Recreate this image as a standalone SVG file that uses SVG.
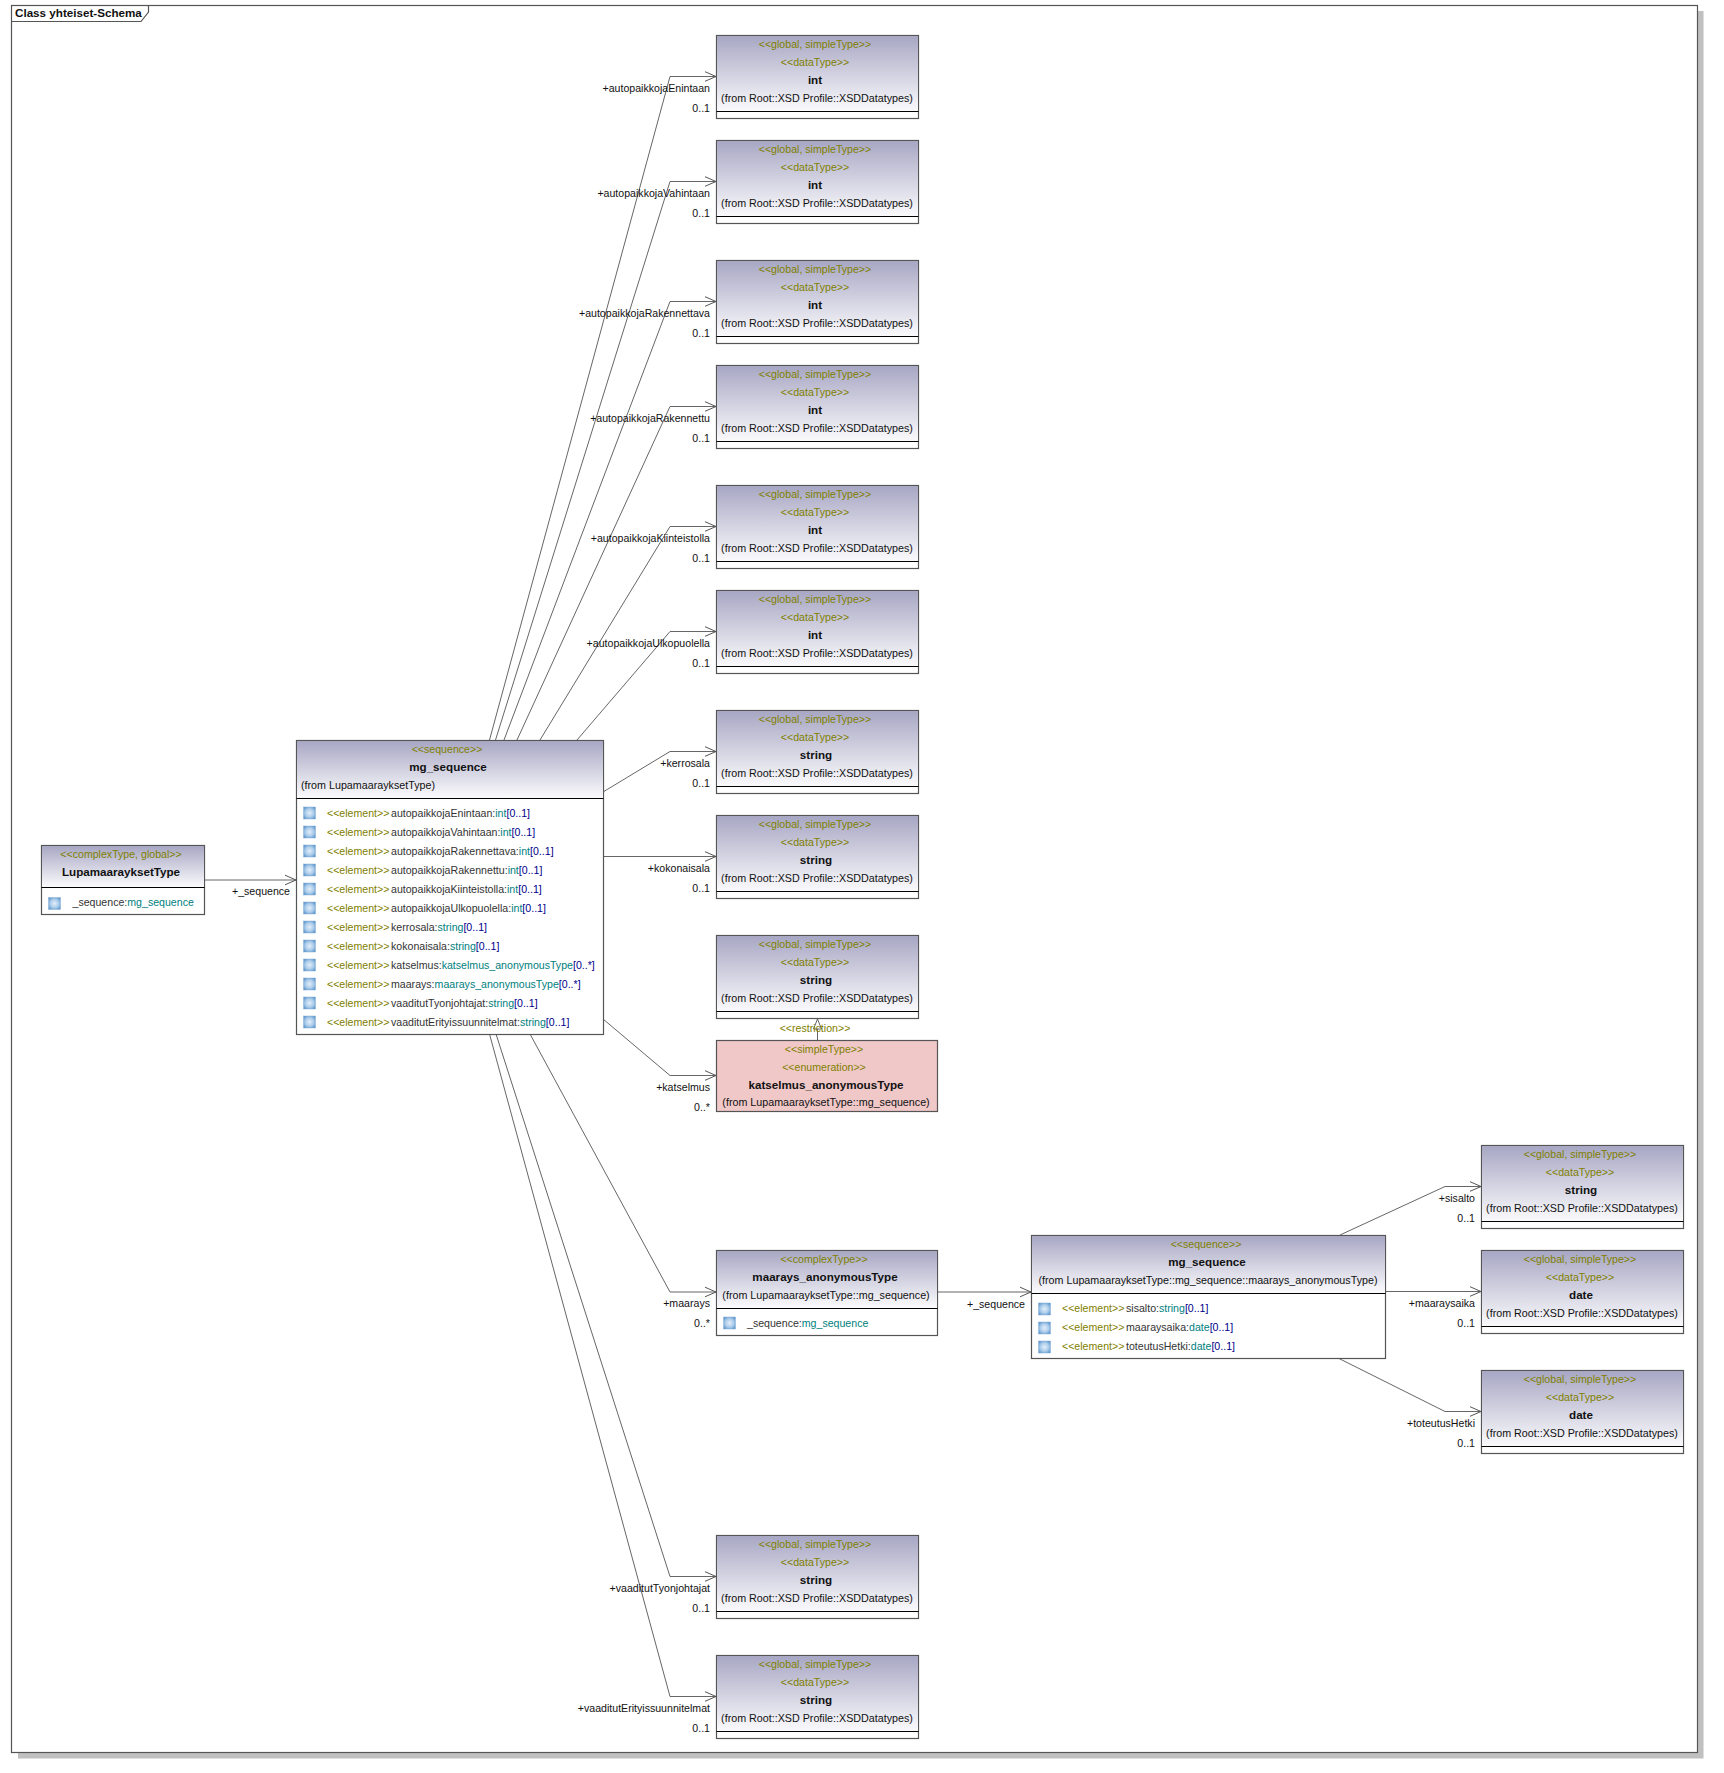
<svg xmlns="http://www.w3.org/2000/svg" width="1724" height="1773" viewBox="0 0 1724 1773">
<style>
text{font-family:"Liberation Sans",Arial,sans-serif;font-size:10.6px;fill:#111}
.c{text-anchor:middle}.e{text-anchor:end}
.st{fill:#808000}.b{font-weight:bold;font-size:11.65px}.t{fill:#008080}.m{fill:#00008b}.n{fill:#333}
.box{fill:#fff;stroke:#555;stroke-width:1.2}
.pink{fill:#f0c8c8;stroke:#555;stroke-width:1.2}
.head{fill:url(#hg);stroke:none}
.div{stroke:#000;stroke-width:1.2;fill:none}
.ln{fill:none;stroke:#555;stroke-width:.9}
.ic{fill:url(#ig);stroke:#8fb4d8;stroke-width:.5;width:12px;height:12px}
.f{font-size:10.72px}
</style>
<defs>
<linearGradient id="hg" x1="0" y1="0" x2="0" y2="1"><stop offset="0" stop-color="#a8a7c4"/><stop offset="1" stop-color="#fbfbfd"/></linearGradient>
<radialGradient id="ig" cx=".5" cy=".5" r=".65"><stop offset="0" stop-color="#e4eefa"/><stop offset=".55" stop-color="#a9cbea"/><stop offset="1" stop-color="#4f8cc8"/></radialGradient>
<marker id="open" markerUnits="userSpaceOnUse" markerWidth="14" markerHeight="12" refX="12" refY="6" orient="auto"><path d="M1 1.200L12 6L1 10.800" fill="none" stroke="#555" stroke-width="1"/></marker>
<clipPath id="rowclip"><rect x="300" y="800" width="296" height="232"/></clipPath>
</defs>
<rect id="bg" width="1724" height="1773" fill="#fff"/>
<g id="frame">
<path d="M1697.500 11H1703.500V1758.500H18V1752.500H1697.500Z" fill="#c0c0c0"/>
<rect x="11.500" y="5.500" width="1686" height="1747" fill="#fff" stroke="#555" stroke-width="1.2"/>
<path d="M11.500 21.500H141L148.500 12V5.500" fill="none" stroke="#555" stroke-width="1.2"/>
<text x="15" y="17" class="b">Class yhteiset-Schema</text>
</g>
<g id="connectors">
<path class="ln" marker-end="url(#open)" d="M204 880H296"/>
<path class="ln" marker-end="url(#open)" d="M489.500 740L670 76.500H716"/>
<path class="ln" marker-end="url(#open)" d="M495.500 740L670 181.500H716"/>
<path class="ln" marker-end="url(#open)" d="M504 740L670 301.500H716"/>
<path class="ln" marker-end="url(#open)" d="M517 740L670 406.500H716"/>
<path class="ln" marker-end="url(#open)" d="M540 740L670 526.500H716"/>
<path class="ln" marker-end="url(#open)" d="M577 740L670 631.500H716"/>
<path class="ln" marker-end="url(#open)" d="M603 792L670 751.500H716"/>
<path class="ln" marker-end="url(#open)" d="M603 856.500H716"/>
<path class="ln" marker-end="url(#open)" d="M603 1019L670 1075.500H716"/>
<path class="ln" marker-end="url(#open)" d="M530 1034L670 1292H716"/>
<path class="ln" marker-end="url(#open)" d="M496 1034L670 1576.500H716"/>
<path class="ln" marker-end="url(#open)" d="M489.500 1034L670 1696.500H716"/>
<path class="ln" marker-end="url(#open)" d="M938 1292H1031"/>
<path class="ln" marker-end="url(#open)" d="M1340 1235L1445 1186.500H1481"/>
<path class="ln" marker-end="url(#open)" d="M1385 1291.500H1481"/>
<path class="ln" marker-end="url(#open)" d="M1338 1358L1445 1411.500H1481"/>
<path class="ln" d="M817.500 1040V1029M813.500 1029H821.500L817.500 1019Z"/>
<text x="290" y="895" class="e">+_sequence</text>
<text x="710" y="92" class="e">+autopaikkojaEnintaan</text><text x="710" y="112" class="e">0..1</text>
<text x="710" y="197" class="e">+autopaikkojaVahintaan</text><text x="710" y="217" class="e">0..1</text>
<text x="710" y="317" class="e">+autopaikkojaRakennettava</text><text x="710" y="337" class="e">0..1</text>
<text x="710" y="422" class="e">+autopaikkojaRakennettu</text><text x="710" y="442" class="e">0..1</text>
<text x="710" y="542" class="e">+autopaikkojaKiinteistolla</text><text x="710" y="562" class="e">0..1</text>
<text x="710" y="647" class="e">+autopaikkojaUlkopuolella</text><text x="710" y="667" class="e">0..1</text>
<text x="710" y="767" class="e">+kerrosala</text><text x="710" y="787" class="e">0..1</text>
<text x="710" y="872" class="e">+kokonaisala</text><text x="710" y="892" class="e">0..1</text>
<text x="710" y="1091" class="e">+katselmus</text><text x="710" y="1111" class="e">0..*</text>
<text x="710" y="1307" class="e">+maarays</text><text x="710" y="1327" class="e">0..*</text>
<text x="710" y="1592" class="e">+vaaditutTyonjohtajat</text><text x="710" y="1612" class="e">0..1</text>
<text x="710" y="1712" class="e">+vaaditutErityissuunnitelmat</text><text x="710" y="1732" class="e">0..1</text>
<text x="1025" y="1308" class="e">+_sequence</text>
<text x="1475" y="1202" class="e">+sisalto</text><text x="1475" y="1222" class="e">0..1</text>
<text x="1475" y="1307" class="e">+maaraysaika</text><text x="1475" y="1327" class="e">0..1</text>
<text x="1475" y="1427" class="e">+toteutusHetki</text><text x="1475" y="1447" class="e">0..1</text>
<text x="815" y="1032" class="c st">&lt;&lt;restriction&gt;&gt;</text>
</g>
<g id="LupamaarayksetType">
<rect class="box" x="41.500" y="845.500" width="163" height="69"/><rect class="head" x="42" y="846" width="162" height="41"/><path class="div" d="M41.500 887.500H204.500"/>
<text x="121" y="858" class="c st">&lt;&lt;complexType, global&gt;&gt;</text>
<text x="121" y="876" class="c b">LupamaarayksetType</text>
<rect class="ic" x="48.500" y="897.500"/>
<text x="72.500" y="906"><tspan class="n">_sequence:</tspan><tspan class="t">mg_sequence</tspan></text>
</g>
<g id="mg_sequence_main">
<rect class="box" x="296.500" y="740.500" width="307" height="294"/><rect class="head" x="297" y="741" width="306" height="57"/><path class="div" d="M296.500 798.500H603.500"/>
<text x="447" y="753" class="c st">&lt;&lt;sequence&gt;&gt;</text>
<text x="448" y="771" class="c b">mg_sequence</text>
<text x="301" y="789" class="f">(from LupamaarayksetType)</text>
<rect class="ic" x="303.500" y="807"/><text x="327" y="817" class="st">&lt;&lt;element&gt;&gt;</text><text x="391" y="817"><tspan class="n">autopaikkojaEnintaan:</tspan><tspan class="t">int</tspan><tspan class="m">[0..1]</tspan></text>
<rect class="ic" x="303.500" y="826"/><text x="327" y="836" class="st">&lt;&lt;element&gt;&gt;</text><text x="391" y="836"><tspan class="n">autopaikkojaVahintaan:</tspan><tspan class="t">int</tspan><tspan class="m">[0..1]</tspan></text>
<rect class="ic" x="303.500" y="845"/><text x="327" y="855" class="st">&lt;&lt;element&gt;&gt;</text><text x="391" y="855"><tspan class="n">autopaikkojaRakennettava:</tspan><tspan class="t">int</tspan><tspan class="m">[0..1]</tspan></text>
<rect class="ic" x="303.500" y="864"/><text x="327" y="874" class="st">&lt;&lt;element&gt;&gt;</text><text x="391" y="874"><tspan class="n">autopaikkojaRakennettu:</tspan><tspan class="t">int</tspan><tspan class="m">[0..1]</tspan></text>
<rect class="ic" x="303.500" y="883"/><text x="327" y="893" class="st">&lt;&lt;element&gt;&gt;</text><text x="391" y="893"><tspan class="n">autopaikkojaKiinteistolla:</tspan><tspan class="t">int</tspan><tspan class="m">[0..1]</tspan></text>
<rect class="ic" x="303.500" y="902"/><text x="327" y="912" class="st">&lt;&lt;element&gt;&gt;</text><text x="391" y="912"><tspan class="n">autopaikkojaUlkopuolella:</tspan><tspan class="t">int</tspan><tspan class="m">[0..1]</tspan></text>
<rect class="ic" x="303.500" y="921"/><text x="327" y="931" class="st">&lt;&lt;element&gt;&gt;</text><text x="391" y="931"><tspan class="n">kerrosala:</tspan><tspan class="t">string</tspan><tspan class="m">[0..1]</tspan></text>
<rect class="ic" x="303.500" y="940"/><text x="327" y="950" class="st">&lt;&lt;element&gt;&gt;</text><text x="391" y="950"><tspan class="n">kokonaisala:</tspan><tspan class="t">string</tspan><tspan class="m">[0..1]</tspan></text>
<rect class="ic" x="303.500" y="959"/><text x="327" y="969" class="st">&lt;&lt;element&gt;&gt;</text><text x="391" y="969" clip-path="url(#rowclip)"><tspan class="n">katselmus:</tspan><tspan class="t">katselmus_anonymousType</tspan><tspan class="m">[0..*]</tspan></text>
<rect class="ic" x="303.500" y="978"/><text x="327" y="988" class="st">&lt;&lt;element&gt;&gt;</text><text x="391" y="988"><tspan class="n">maarays:</tspan><tspan class="t">maarays_anonymousType</tspan><tspan class="m">[0..*]</tspan></text>
<rect class="ic" x="303.500" y="997"/><text x="327" y="1007" class="st">&lt;&lt;element&gt;&gt;</text><text x="391" y="1007"><tspan class="n">vaaditutTyonjohtajat:</tspan><tspan class="t">string</tspan><tspan class="m">[0..1]</tspan></text>
<rect class="ic" x="303.500" y="1016"/><text x="327" y="1026" class="st">&lt;&lt;element&gt;&gt;</text><text x="391" y="1026"><tspan class="n">vaaditutErityissuunnitelmat:</tspan><tspan class="t">string</tspan><tspan class="m">[0..1]</tspan></text>
</g>
<g id="int1"><rect class="box" x="716.500" y="35.500" width="202" height="83"/><rect class="head" x="717" y="36" width="201" height="76"/><path class="div" d="M716.500 111.500H918.500"/><text x="815" y="48" class="c st">&lt;&lt;global, simpleType&gt;&gt;</text><text x="815" y="66" class="c st">&lt;&lt;dataType&gt;&gt;</text><text x="815" y="84" class="c b">int</text><text x="817" y="102" class="c f">(from Root::XSD Profile::XSDDatatypes)</text></g>
<g id="int2"><rect class="box" x="716.500" y="140.500" width="202" height="83"/><rect class="head" x="717" y="141" width="201" height="76"/><path class="div" d="M716.500 216.500H918.500"/><text x="815" y="153" class="c st">&lt;&lt;global, simpleType&gt;&gt;</text><text x="815" y="171" class="c st">&lt;&lt;dataType&gt;&gt;</text><text x="815" y="189" class="c b">int</text><text x="817" y="207" class="c f">(from Root::XSD Profile::XSDDatatypes)</text></g>
<g id="int3"><rect class="box" x="716.500" y="260.500" width="202" height="83"/><rect class="head" x="717" y="261" width="201" height="76"/><path class="div" d="M716.500 336.500H918.500"/><text x="815" y="273" class="c st">&lt;&lt;global, simpleType&gt;&gt;</text><text x="815" y="291" class="c st">&lt;&lt;dataType&gt;&gt;</text><text x="815" y="309" class="c b">int</text><text x="817" y="327" class="c f">(from Root::XSD Profile::XSDDatatypes)</text></g>
<g id="int4"><rect class="box" x="716.500" y="365.500" width="202" height="83"/><rect class="head" x="717" y="366" width="201" height="76"/><path class="div" d="M716.500 441.500H918.500"/><text x="815" y="378" class="c st">&lt;&lt;global, simpleType&gt;&gt;</text><text x="815" y="396" class="c st">&lt;&lt;dataType&gt;&gt;</text><text x="815" y="414" class="c b">int</text><text x="817" y="432" class="c f">(from Root::XSD Profile::XSDDatatypes)</text></g>
<g id="int5"><rect class="box" x="716.500" y="485.500" width="202" height="83"/><rect class="head" x="717" y="486" width="201" height="76"/><path class="div" d="M716.500 561.500H918.500"/><text x="815" y="498" class="c st">&lt;&lt;global, simpleType&gt;&gt;</text><text x="815" y="516" class="c st">&lt;&lt;dataType&gt;&gt;</text><text x="815" y="534" class="c b">int</text><text x="817" y="552" class="c f">(from Root::XSD Profile::XSDDatatypes)</text></g>
<g id="int6"><rect class="box" x="716.500" y="590.500" width="202" height="83"/><rect class="head" x="717" y="591" width="201" height="76"/><path class="div" d="M716.500 666.500H918.500"/><text x="815" y="603" class="c st">&lt;&lt;global, simpleType&gt;&gt;</text><text x="815" y="621" class="c st">&lt;&lt;dataType&gt;&gt;</text><text x="815" y="639" class="c b">int</text><text x="817" y="657" class="c f">(from Root::XSD Profile::XSDDatatypes)</text></g>
<g id="string1"><rect class="box" x="716.500" y="710.500" width="202" height="83"/><rect class="head" x="717" y="711" width="201" height="76"/><path class="div" d="M716.500 786.500H918.500"/><text x="815" y="723" class="c st">&lt;&lt;global, simpleType&gt;&gt;</text><text x="815" y="741" class="c st">&lt;&lt;dataType&gt;&gt;</text><text x="816" y="759" class="c b">string</text><text x="817" y="777" class="c f">(from Root::XSD Profile::XSDDatatypes)</text></g>
<g id="string2"><rect class="box" x="716.500" y="815.500" width="202" height="83"/><rect class="head" x="717" y="816" width="201" height="76"/><path class="div" d="M716.500 891.500H918.500"/><text x="815" y="828" class="c st">&lt;&lt;global, simpleType&gt;&gt;</text><text x="815" y="846" class="c st">&lt;&lt;dataType&gt;&gt;</text><text x="816" y="864" class="c b">string</text><text x="817" y="882" class="c f">(from Root::XSD Profile::XSDDatatypes)</text></g>
<g id="string3"><rect class="box" x="716.500" y="935.500" width="202" height="83"/><rect class="head" x="717" y="936" width="201" height="76"/><path class="div" d="M716.500 1011.500H918.500"/><text x="815" y="948" class="c st">&lt;&lt;global, simpleType&gt;&gt;</text><text x="815" y="966" class="c st">&lt;&lt;dataType&gt;&gt;</text><text x="816" y="984" class="c b">string</text><text x="817" y="1002" class="c f">(from Root::XSD Profile::XSDDatatypes)</text></g>
<g id="katselmus_anonymousType"><rect class="pink" x="716.500" y="1040.500" width="221" height="71"/><text x="824" y="1053" class="c st">&lt;&lt;simpleType&gt;&gt;</text><text x="824" y="1071" class="c st">&lt;&lt;enumeration&gt;&gt;</text><text x="826" y="1089" class="c b">katselmus_anonymousType</text><text x="826" y="1106" class="c f">(from LupamaarayksetType::mg_sequence)</text></g>
<g id="maarays_anonymousType"><rect class="box" x="716.500" y="1250.500" width="221" height="85"/><rect class="head" x="717" y="1251" width="220" height="57"/><path class="div" d="M716.500 1308.500H937.500"/><text x="824" y="1263" class="c st">&lt;&lt;complexType&gt;&gt;</text><text x="825" y="1281" class="c b">maarays_anonymousType</text><text x="826" y="1299" class="c f">(from LupamaarayksetType::mg_sequence)</text><rect class="ic" x="723.500" y="1317"/><text x="747" y="1327"><tspan class="n">_sequence:</tspan><tspan class="t">mg_sequence</tspan></text></g>
<g id="mg_sequence_maarays"><rect class="box" x="1031.500" y="1235.500" width="354" height="123"/><rect class="head" x="1032" y="1236" width="353" height="57"/><path class="div" d="M1031.500 1293.500H1385.500"/><text x="1206" y="1248" class="c st">&lt;&lt;sequence&gt;&gt;</text><text x="1207" y="1266" class="c b">mg_sequence</text><text x="1208" y="1284" class="c f">(from LupamaarayksetType::mg_sequence::maarays_anonymousType)</text>
<rect class="ic" x="1038.500" y="1303"/><text x="1062" y="1312" class="st">&lt;&lt;element&gt;&gt;</text><text x="1126" y="1312"><tspan class="n">sisalto:</tspan><tspan class="t">string</tspan><tspan class="m">[0..1]</tspan></text>
<rect class="ic" x="1038.500" y="1322"/><text x="1062" y="1331" class="st">&lt;&lt;element&gt;&gt;</text><text x="1126" y="1331"><tspan class="n">maaraysaika:</tspan><tspan class="t">date</tspan><tspan class="m">[0..1]</tspan></text>
<rect class="ic" x="1038.500" y="1341"/><text x="1062" y="1350" class="st">&lt;&lt;element&gt;&gt;</text><text x="1126" y="1350"><tspan class="n">toteutusHetki:</tspan><tspan class="t">date</tspan><tspan class="m">[0..1]</tspan></text></g>
<g id="string4"><rect class="box" x="716.500" y="1535.500" width="202" height="83"/><rect class="head" x="717" y="1536" width="201" height="76"/><path class="div" d="M716.500 1611.500H918.500"/><text x="815" y="1548" class="c st">&lt;&lt;global, simpleType&gt;&gt;</text><text x="815" y="1566" class="c st">&lt;&lt;dataType&gt;&gt;</text><text x="816" y="1584" class="c b">string</text><text x="817" y="1602" class="c f">(from Root::XSD Profile::XSDDatatypes)</text></g>
<g id="string5"><rect class="box" x="716.500" y="1655.500" width="202" height="83"/><rect class="head" x="717" y="1656" width="201" height="76"/><path class="div" d="M716.500 1731.500H918.500"/><text x="815" y="1668" class="c st">&lt;&lt;global, simpleType&gt;&gt;</text><text x="815" y="1686" class="c st">&lt;&lt;dataType&gt;&gt;</text><text x="816" y="1704" class="c b">string</text><text x="817" y="1722" class="c f">(from Root::XSD Profile::XSDDatatypes)</text></g>
<g id="string6"><rect class="box" x="1481.500" y="1145.500" width="202" height="83"/><rect class="head" x="1482" y="1146" width="201" height="76"/><path class="div" d="M1481.500 1221.500H1683.500"/><text x="1580" y="1158" class="c st">&lt;&lt;global, simpleType&gt;&gt;</text><text x="1580" y="1176" class="c st">&lt;&lt;dataType&gt;&gt;</text><text x="1581" y="1194" class="c b">string</text><text x="1582" y="1212" class="c f">(from Root::XSD Profile::XSDDatatypes)</text></g>
<g id="date1"><rect class="box" x="1481.500" y="1250.500" width="202" height="83"/><rect class="head" x="1482" y="1251" width="201" height="76"/><path class="div" d="M1481.500 1326.500H1683.500"/><text x="1580" y="1263" class="c st">&lt;&lt;global, simpleType&gt;&gt;</text><text x="1580" y="1281" class="c st">&lt;&lt;dataType&gt;&gt;</text><text x="1581" y="1299" class="c b">date</text><text x="1582" y="1317" class="c f">(from Root::XSD Profile::XSDDatatypes)</text></g>
<g id="date2"><rect class="box" x="1481.500" y="1370.500" width="202" height="83"/><rect class="head" x="1482" y="1371" width="201" height="76"/><path class="div" d="M1481.500 1446.500H1683.500"/><text x="1580" y="1383" class="c st">&lt;&lt;global, simpleType&gt;&gt;</text><text x="1580" y="1401" class="c st">&lt;&lt;dataType&gt;&gt;</text><text x="1581" y="1419" class="c b">date</text><text x="1582" y="1437" class="c f">(from Root::XSD Profile::XSDDatatypes)</text></g>
</svg>
